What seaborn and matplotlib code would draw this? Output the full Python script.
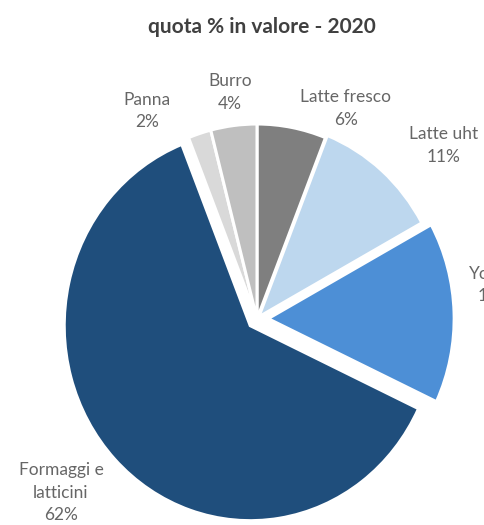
import matplotlib
matplotlib.use("Agg")
import matplotlib.pyplot as plt
import seaborn as sns
import numpy as np

categories = ["Latte fresco", "Latte uht", "Yogurt", "Formaggi e\nlatticini", "Panna", "Burro"]
values = [6, 11, 15, 62, 2, 4]
colors = ["#7f7f7f", "#bdd7ee", "#4d8fd6", "#1f4e7c", "#d9d9d9", "#bfbfbf"]
explode = [0, 0.015, 0.06, 0.05, 0, 0]
label_dist = [1.18, 1.34, 1.29, 1.38, 1.22, 1.17]
label_shift = [13, 7, -6, 3, -11, 0]  # degrees clockwise shift of label

sns.set_theme(style="white")
plt.rcParams['font.family'] = ['Lato', 'DejaVu Sans']

W, H = 485, 525
cx, cy = 257, 319           # pie centre in pixels (from top-left)
rx, ry = 186, 195           # horizontal / vertical radius in pixels
lim = 1.3
fig = plt.figure(figsize=(W / 100, H / 100), dpi=100)
ax = fig.add_axes([(cx - lim * rx) / W, (H - cy - lim * ry) / H,
                   2 * lim * rx / W, 2 * lim * ry / H])

wedges, _ = ax.pie(values, colors=colors, explode=explode, startangle=90,
                   counterclock=False, wedgeprops=dict(edgecolor="white", linewidth=2.2))
ax.set_xlim(-lim, lim)
ax.set_ylim(-lim, lim)
ax.set_aspect("auto")
ax.axis("off")

for w, cat, v, d, s in zip(wedges, categories, values, label_dist, label_shift):
    mid = np.deg2rad((w.theta1 + w.theta2) / 2 - s)
    x, y = d * np.cos(mid), d * np.sin(mid)
    ax.text(x, y, f"{cat}\n{v}%", ha="center", va="center", fontsize=12.5,
            color="#666666", linespacing=1.5, clip_on=False)

fig.text(262 / W, 1 - 27 / H, "quota % in valore - 2020", ha="center", va="center",
         fontsize=15, fontweight="bold", color="#404040")

fig.savefig("out.png", dpi=100)
